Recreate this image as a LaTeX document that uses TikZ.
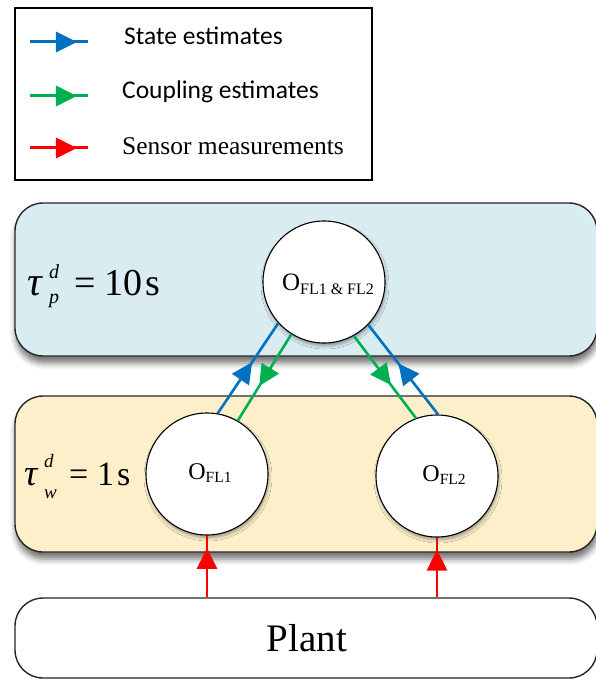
\documentclass[tikz,border=0pt]{standalone}
\usepackage{fontspec}
\setmainfont{Liberation Serif}
\newfontfamily\legendsans{Carlito}
\usetikzlibrary{arrows.meta,decorations.markings,shadows.blur}

\definecolor{stateblue}{RGB}{0,112,192}
\definecolor{couplegreen}{RGB}{0,176,80}
\definecolor{sensorred}{RGB}{255,0,0}
\definecolor{plantfill}{RGB}{216,236,242}
\definecolor{wellfill}{RGB}{253,239,202}

\newcommand\setfs[1]{\fontsize{#1}{#1}\selectfont}

\begin{document}
\begin{tikzpicture}[x=1pt,y=-1pt,
  layerbox/.style={draw=black!85, line width=1.4pt, rounded corners=28pt,
    minimum width=582pt, inner sep=0pt},
  boxshadow/.style={blur shadow={shadow xshift=1pt, shadow yshift=-7pt,
    shadow blur radius=6pt, shadow opacity=55}},
  observer/.style={circle, draw=black, line width=1.1pt, fill=white,
    minimum size=122pt, inner sep=0pt,
    blur shadow={shadow xshift=1pt, shadow yshift=-3pt,
      shadow blur radius=3pt, shadow opacity=35}},
  txt/.style={inner sep=0pt, anchor=base west},
  flow/.style={line width=2.6pt},
  midhead/.style={postaction={decorate}, decoration={markings,
    mark=at position #1 with {\arrow{Triangle[length=21pt,width=20pt]}}}},
]
\useasboundingbox (0,0) rectangle (596,679);
\clip (0,0) rectangle (596,679);

% ---- legend ----
\node[draw=black, line width=2pt, minimum width=357pt, minimum height=172pt,
  inner sep=0pt] (legend) at (193.5,94) {};
\coordinate (ls1) at (30,42);  \coordinate (le1) at (88,42);
\coordinate (ls2) at (30,96);  \coordinate (le2) at (88,96);
\coordinate (ls3) at (30,148); \coordinate (le3) at (88,148);
\draw[flow, line width=3pt, stateblue, midhead=0.81] (ls1) -- (le1);
\draw[flow, line width=3pt, couplegreen, midhead=0.81] (ls2) -- (le2);
\draw[flow, line width=3pt, sensorred, midhead=0.81] (ls3) -- (le3);
\node[txt] (lt1) at (124,45) {\legendsans\setfs{25.5}State estimates};
\node[txt] (lt2) at (122,99) {\legendsans\setfs{25.5}Coupling estimates};
\node[txt] (lt3) at (122,154) {\setfs{25.5}Sensor measurements};

% ---- layers ----
\node[layerbox, boxshadow, fill=plantfill, minimum height=153pt] (upper) at (306,279.5) {};
\node[layerbox, boxshadow, fill=wellfill, minimum height=156pt] (lower) at (306,474) {};
\node[layerbox, fill=white, minimum height=80pt] (plant) at (306,638) {};
\node (planttext) at (307,638) {\setfs{39}Plant};

% ---- time-scale labels ----
\node[txt] (taup) at (27,295) {\setfs{41}\itshape τ};
\node[txt] (taupd) at (49,278) {\setfs{20}\itshape d};
\node[txt] (taupp) at (49,303) {\setfs{20}\itshape p};
\node[txt] (taupeq) at (74,295) {\setfs{38}=};
\node[txt] (taupn) at (104,295) {\setfs{38}10};
\node[txt] (taups) at (145,295) {\setfs{38}s};

\node[txt] (tauw) at (24,485) {\setfs{37}\itshape τ};
\node[txt] (tauwd) at (44,467) {\setfs{19}\itshape d};
\node[txt] (tauww) at (44,498) {\setfs{19}\itshape w};
\node[txt] (tauweq) at (69,485) {\setfs{34}=};
\node[txt] (tauwn) at (97,485) {\setfs{34}1};
\node[txt] (tauws) at (117,485) {\setfs{34}s};

% ---- observers ----
\node[observer] (ofl12) at (324,282) {};
\node[observer] (ofl1) at (207,474) {};
\node[observer] (ofl2) at (437,476) {};
\node (ofl12text) at (328,284) {\setfs{25}O\raisebox{-4pt}{\setfs{16}FL1 \& FL2}};
\node (ofl1text) at (210,473) {\setfs{24}O\raisebox{-3pt}{\setfs{15.5}FL1}};
\node (ofl2text) at (444,475) {\setfs{24}O\raisebox{-3pt}{\setfs{15.5}FL2}};

% ---- estimate exchange ----
\draw[flow, stateblue, midhead=0.57] (ofl1.80) -- (ofl12.222);
\draw[flow, couplegreen, midhead=0.6] (ofl12.238) -- (ofl1.60);
\draw[flow, couplegreen, midhead=0.6] (ofl12.299) -- (ofl2.110);
\draw[flow, stateblue, midhead=0.57] (ofl2.89) -- (ofl12.316);

% ---- sensor measurements ----
\draw[flow, sensorred, midhead=0.8] (ofl1 |- plant.north) -- (ofl1.south);
\draw[flow, sensorred, midhead=0.8] (ofl2 |- plant.north) -- (ofl2.south);
\end{tikzpicture}
\end{document}
